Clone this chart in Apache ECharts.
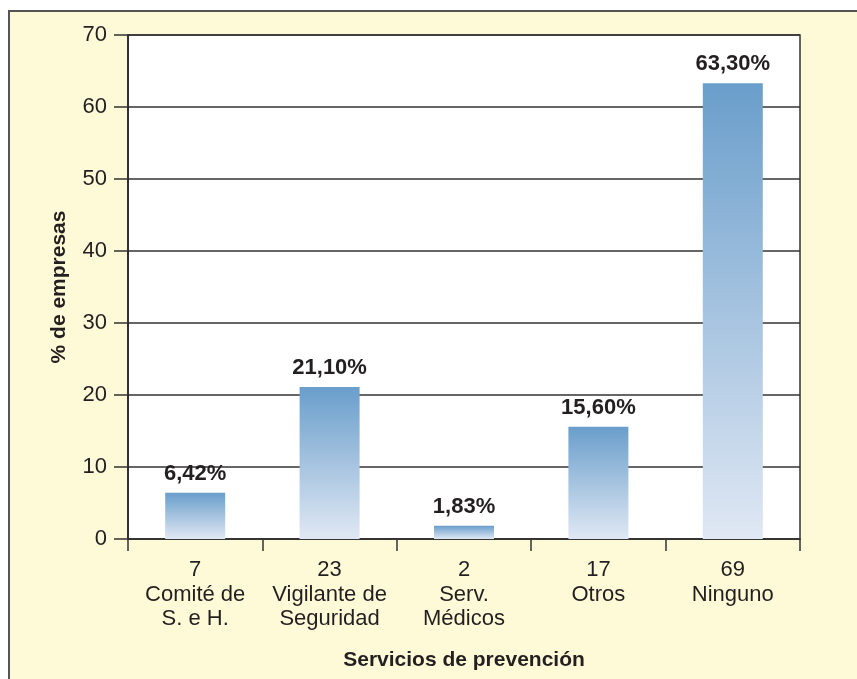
<!DOCTYPE html>
<html>
<head>
<meta charset="utf-8">
<script src="https://cdn.jsdelivr.net/npm/echarts@6/dist/echarts.min.js"></script>
<style>
  body { margin: 0; }
  #wrap { position: relative; width: 857px; height: 679px; background: #fff; overflow: hidden; }
  #frame { position: absolute; left: 8px; top: 10px; width: 900px; height: 700px;
           background: #fef9d7; border-left: 2px solid #555; border-top: 2px solid #555; }
  #chart { position: absolute; left: 0; top: 0; width: 857px; height: 679px; }
</style>
</head>
<body>
<div id="wrap">
  <div id="frame"></div>
  <div id="chart"></div>
</div>
<script>
// counts and names per service
var counts = ["7", "23", "2", "17", "69"];
var services = ["Comité de\nS. e H.", "Vigilante de\nSeguridad", "Serv.\nMédicos", "Otros", "Ninguno"];
var percent = [6.42, 21.1, 1.83, 15.6, 63.3];
var percentLabels = ["6,42%", "21,10%", "1,83%", "15,60%", "63,30%"];
var yTicks = [0, 10, 20, 30, 40, 50, 60, 70];

var categories = [];
for (var i = 0; i < counts.length; i++) {
  categories.push(counts[i] + "\n" + services[i]);
}

var textColor = "#231f20";
var chart = echarts.init(document.getElementById("chart"));

var option = {
  backgroundColor: "transparent",
  textStyle: { fontFamily: "Liberation Sans, Arial, sans-serif" },
  grid: {
    left: 128,
    right: 57,
    top: 35,
    bottom: 140,
    show: true,
    backgroundColor: "#fff",
    borderColor: "#333",
    borderWidth: 1.5
  },
  xAxis: {
    type: "category",
    data: categories,
    name: "Servicios de prevención",
    nameLocation: "middle",
    nameGap: 111,
    nameTextStyle: { color: textColor, fontSize: 21, fontWeight: "bold" },
    axisLine: { lineStyle: { color: "#333", width: 1.5 } },
    axisTick: { show: true, length: 12, interval: 0, lineStyle: { color: "#333", width: 1.5 } },
    axisLabel: {
      interval: 0,
      color: textColor,
      fontSize: 22,
      lineHeight: 24.5,
      margin: 19
    }
  },
  yAxis: {
    type: "value",
    min: yTicks[0],
    max: yTicks[yTicks.length - 1],
    interval: 10,
    name: "% de empresas",
    nameLocation: "middle",
    nameGap: 58,
    nameTextStyle: { color: textColor, fontSize: 21, fontWeight: "bold" },
    axisLine: { show: true, lineStyle: { color: "#222", width: 1.5 } },
    axisTick: { show: true, length: 14, lineStyle: { color: "#333", width: 1.5 } },
    axisLabel: { color: textColor, fontSize: 22, margin: 21 },
    splitLine: { lineStyle: { color: "#333", width: 1.5 } }
  },
  series: [
    {
      type: "bar",
      data: percent,
      barWidth: 60,
      itemStyle: {
        color: new echarts.graphic.LinearGradient(0, 0, 0, 1, [
          { offset: 0, color: "#6a9ecb" },
          { offset: 1, color: "#e0e8f4" }
        ])
      },
      label: {
        show: true,
        position: "top",
        distance: 8,
        color: textColor,
        fontSize: 22,
        fontWeight: "bold",
        formatter: function (p) {
          return percentLabels[p.dataIndex];
        }
      }
    }
  ]
};

chart.setOption(option);
</script>
</body>
</html>
